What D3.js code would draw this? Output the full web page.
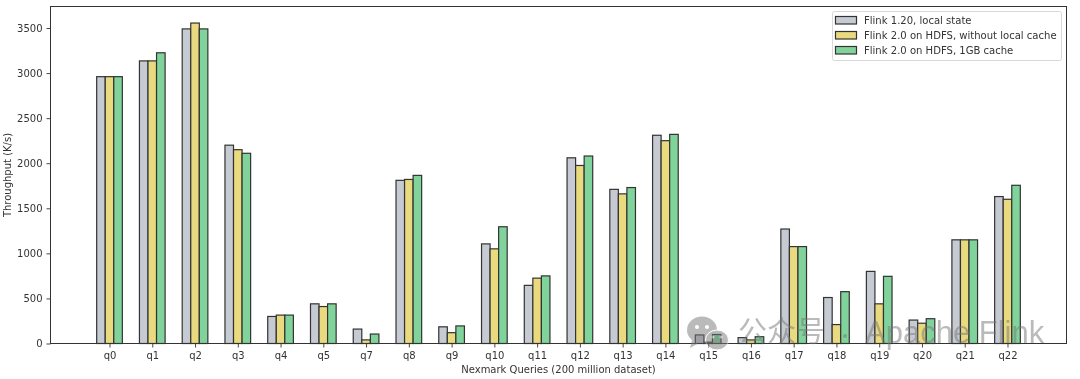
<!DOCTYPE html>
<html><head><meta charset="utf-8"><style>html,body{margin:0;background:#fff}svg{display:block;filter:blur(0.35px)}text{font-family:"DejaVu Sans",sans-serif;fill:#333}</style>
<script src="https://cdn.jsdelivr.net/npm/d3@7/dist/d3.min.js"></script></head><body><svg id="c" width="1080" height="379"></svg>
<script>
const categories=["q0","q1","q2","q3","q4","q5","q7","q8","q9","q10","q11","q12","q13","q14","q15","q16","q17","q18","q19","q20","q21","q22"];
const localState=[2960,3135,3490,2200,300,440,160,1810,185,1105,645,2060,1710,2310,95,65,1270,510,800,260,1150,1630];
const noCache=[2960,3135,3555,2150,315,410,40,1820,120,1050,725,1975,1660,2250,15,40,1075,210,440,225,1150,1600];
const oneGbCache=[2960,3225,3490,2110,315,440,105,1865,195,1295,750,2080,1730,2320,100,75,1075,575,745,275,1150,1755];
const seriesNames=["Flink 1.20, local state","Flink 2.0 on HDFS, without local cache","Flink 2.0 on HDFS, 1GB cache"];
const seriesValues=[localState,noCache,oneGbCache];
const colors=["#c6cad2","#e9d97f","#80d39b"];
const yTicks=[0,500,1000,1500,2000,2500,3000,3500];

const L=50.5,R=1066.5,T=6.5,B=343.5;
const svg=d3.select("#c");
const x=d3.scalePoint().domain(categories).range([L,R]).padding(1.38);
const y=d3.scaleLinear().domain([0,3500]).range([B,28]);
const bw=x.step()*0.2;
const stroke="#333";

seriesValues.forEach((vals,s)=>{
  svg.append("g").selectAll("rect").data(vals).join("rect")
    .attr("x",(d,i)=>x(categories[i])+(s-1.5)*bw)
    .attr("y",d=>y(d)).attr("width",bw).attr("height",d=>B-y(d))
    .attr("fill",colors[s]).attr("stroke",stroke).attr("stroke-width",1.2);
});

const ax=svg.append("g").attr("transform",`translate(0,${B})`).call(d3.axisBottom(x).tickSize(4).tickPadding(4));
const ay=svg.append("g").attr("transform",`translate(${L},0)`).call(d3.axisLeft(y).tickValues(yTicks).tickFormat(d3.format("d")).tickSize(4).tickPadding(4));
[ax,ay].forEach(a=>{a.select(".domain").remove();a.selectAll("line").attr("stroke",stroke).attr("stroke-width",.9);a.selectAll("text").attr("font-size",10).attr("fill","#333").style("font-family",'"DejaVu Sans"');});
svg.append("rect").attr("x",L).attr("y",T).attr("width",R-L).attr("height",B-T).attr("fill","none").attr("stroke",stroke).attr("stroke-width",1);

svg.append("text").attr("x",558.5).attr("y",373).attr("text-anchor","middle").attr("font-size",10).text("Nexmark Queries (200 million dataset)");
svg.append("text").attr("transform","translate(11,175) rotate(-90)").attr("text-anchor","middle").attr("font-size",10).text("Throughput (K/s)");

const lg=svg.append("g");
lg.append("rect").attr("x",832.5).attr("y",11.5).attr("width",229).attr("height",49).attr("rx",2).attr("fill","#fff").attr("fill-opacity",.8).attr("stroke","#d4d4d4").attr("stroke-width",.9);
seriesNames.forEach((n,i)=>{
  const yy=20+i*15;
  lg.append("rect").attr("x",835.5).attr("y",yy-3.5).attr("width",21).attr("height",7.5).attr("fill",colors[i]).attr("stroke",stroke).attr("stroke-width",1.2);
  lg.append("text").attr("x",864).attr("y",yy+3.5).attr("font-size",10.05).text(n);
});

// watermark
const wm=svg.append("g").attr("opacity",.5);
wm.append("ellipse").attr("cx",702).attr("cy",330).attr("rx",15).attr("ry",13.5).attr("fill","#777");
wm.append("path").attr("d","M692 340 L690 348 L699 343 Z").attr("fill","#777");
wm.append("ellipse").attr("cx",717).attr("cy",340).attr("rx",11.5).attr("ry",10).attr("fill","#777").attr("stroke","#fff").attr("stroke-width",1);
[[697,327,2],[707,327,2],[713,337,1.5],[721,337,1.5]].forEach(e=>wm.append("circle").attr("cx",e[0]).attr("cy",e[1]).attr("r",e[2]).attr("fill","#fff"));
wm.append("text").attr("x",738).attr("y",342).attr("font-size",29).style("font-family",'"Noto Sans CJK SC"').style("fill","#777").text("公众号");
wm.append("circle").attr("cx",845).attr("cy",336).attr("r",2).attr("fill","#777");
wm.append("text").attr("x",865).attr("y",343).attr("font-size",31).style("font-family",'"Liberation Sans"').style("fill","#777").text("Apache Flink");
</script></body></html>
